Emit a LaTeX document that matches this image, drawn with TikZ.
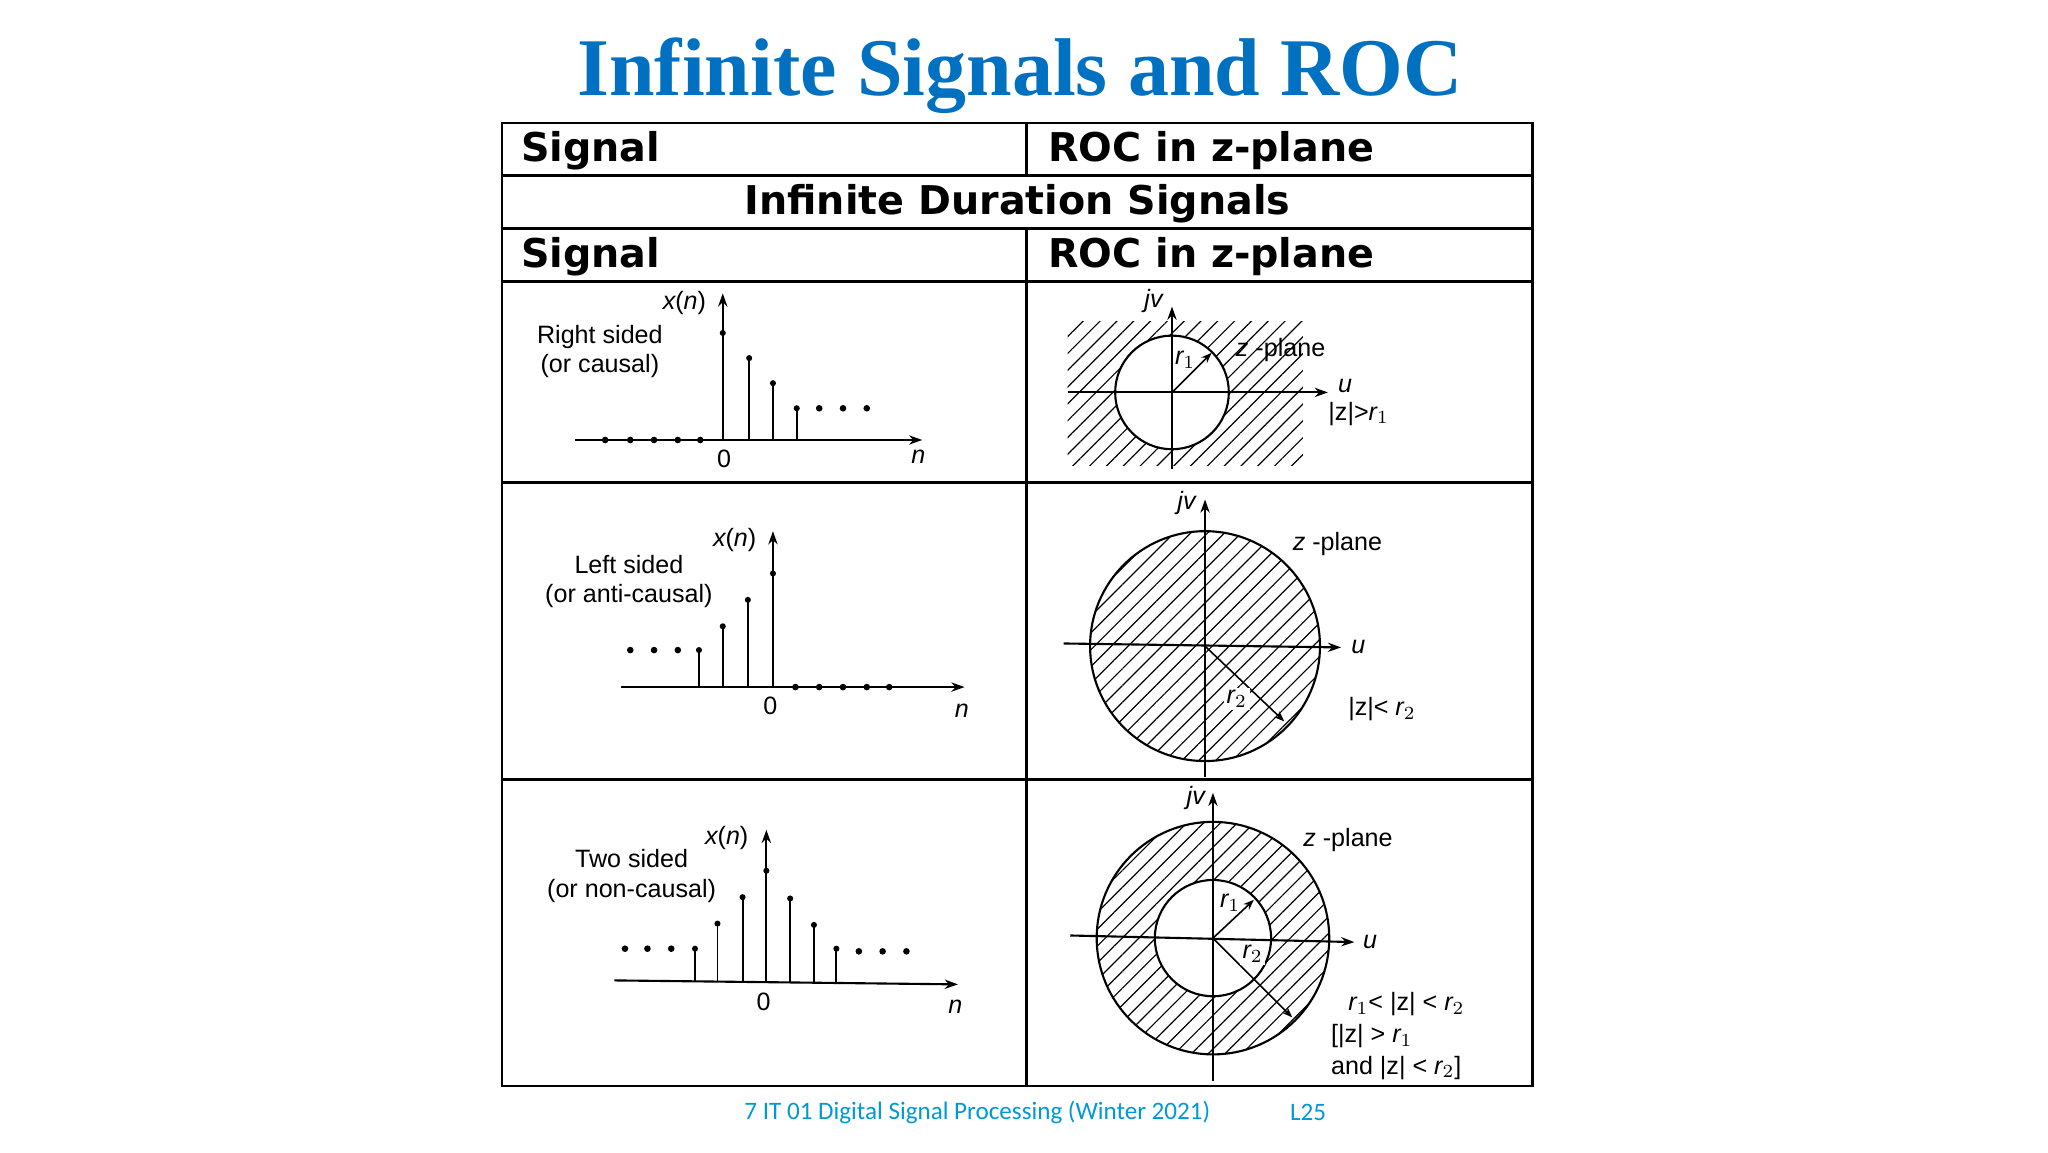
\documentclass[tikz,border=0pt]{standalone}
\usepackage{fontspec}
\setmainfont{Liberation Sans}
\newfontfamily\titlefont{Liberation Serif}
\newfontfamily\headfont{DejaVu Sans}
\newfontfamily\footfont{Carlito}
\usetikzlibrary{patterns.meta,arrows.meta}
\definecolor{titleblue}{RGB}{0,112,192}
\definecolor{footblue}{RGB}{0,153,214}
\begin{document}
\begin{tikzpicture}[x=0.5pt,y=-0.5pt,
  grid/.style={line width=1pt},
  ax/.style={line width=0.8pt,-{Stealth[length=5pt,width=3.5pt]}},
  stem/.style={line width=0.7pt},
  rarrow/.style={line width=0.6pt,-{Stealth[length=4pt,width=3pt]}},
  hatch/.style={pattern={Lines[angle=45,distance=4.5pt,line width=0.45pt]}},
  lbl/.style={font=\fontsize{9.5}{11}\selectfont,inner sep=0pt},
  hd/.style={font=\headfont\bfseries\fontsize{15}{17}\selectfont,inner sep=0pt}]
\useasboundingbox (0,0) rectangle (1550,871.9);
% title
\node[font=\titlefont\bfseries\fontsize{31}{34}\selectfont,text=titleblue] (title) at (772,57) {Infinite Signals and ROC};
% table
\draw[grid] (380,93) rectangle (1160,822);
\foreach \y in {133,173,213,365,590} \draw[grid] (380,\y) -- (1160,\y);
\draw[grid] (777,93) -- (777,133);
\draw[grid] (777,173) -- (777,822);
\node[hd,anchor=west] (h1) at (394,114) {Signal};
\node[hd,anchor=west] (h2) at (793,114) {ROC in z-plane};
\node[hd] (h3) at (770,154) {Infinite Duration Signals};
\node[hd,anchor=west] (h4) at (394,194) {Signal};
\node[hd,anchor=west] (h5) at (793,194) {ROC in z-plane};
% ---------- row 1 left
\coordinate (a1s) at (435,333); \coordinate (a1e) at (698,333);
\draw[ax] (a1s) -- (a1e);
\coordinate (v1s) at (547,333); \coordinate (v1e) at (547,222);
\draw[ax] (v1s) -- (v1e);
\foreach \x/\t in {547/252,567/271,585/290,603/309}{\draw[stem] (\x,333) -- (\x,\t); \fill (\x,\t) circle (2.3);}
\foreach \x in {620,638,656} \fill (\x,309) circle (2.5);
\foreach \x in {458,477,495,513,530} \fill (\x,333) circle (2.5);
\node[lbl] (z1) at (548,347) {0};
\node[lbl] (n1) at (695,346) {\itshape n};
\node[lbl] (x1) at (518,229) {\itshape x\upshape(\itshape n\upshape)};
\node[lbl,align=center] (t1) at (454,266) {Right sided\\(or causal)};
% ---------- row 1 right
\begin{scope}
\clip (808,243) rectangle (986,352);
\fill[hatch] (808,243) rectangle (986,352);
\end{scope}
\fill[white] (887,297) circle (43);
\draw[line width=0.8pt] (887,297) circle (43);
\draw[ax] (808,297) -- (1005,297);
\draw[ax] (887,355) -- (887,232);
\coordinate (c1) at (887,297); \coordinate (r1e) at (917,267);
\draw[rarrow] (c1) -- (r1e);
\node[lbl] (jv1) at (873,228) {\itshape jv};
\node[lbl] (u1) at (1018,292) {\itshape u};
\node[lbl,anchor=west] (roc1) at (1005,313) {|z|>\itshape r\upshape$_1$};
\node[lbl,anchor=west] (zp1) at (935,265) {\itshape z\upshape\ -plane};
\node[lbl] (r1l) at (897,272) {\itshape r\upshape$_1$};
% ---------- row 2 left
\draw[ax] (470,520) -- (730,520);
\draw[ax] (585,520) -- (585,402);
\foreach \x/\t in {585/434,566/454,547/474,529/492}{\draw[stem] (\x,520) -- (\x,\t); \fill (\x,\t) circle (2.3);}
\foreach \x in {477,495,513} \fill (\x,492) circle (2.5);
\foreach \x in {602,620,638,656,673} \fill (\x,520) circle (2.5);
\node[lbl] (z2) at (583,534) {0};
\node[lbl] (n2) at (728,538) {\itshape n};
\node[lbl] (x2) at (556,409) {\itshape x\upshape(\itshape n\upshape)};
\node[lbl,align=center] (t2) at (476,440) {Left sided\\(or anti-causal)};
% ---------- row 2 right
\fill[hatch] (912,489) circle (87);
\draw[line width=0.8pt] (912,489) circle (87);
\draw[ax] (805,487) -- (1015,490);
\draw[ax] (912,588) -- (912,378);
\coordinate (c2) at (912,489); \coordinate (r2e) at (972,546);
\draw[rarrow] (c2) -- (r2e);
\node[lbl] (jv2) at (898,381) {\itshape jv};
\node[lbl,anchor=west] (zp2) at (978,412) {\itshape z\upshape\ -plane};
\node[lbl] (u2) at (1028,490) {\itshape u};
\node[lbl,anchor=west] (roc2) at (1020,537) {|z|< \itshape r\upshape$_2$};
\node[lbl,fill=white,inner sep=1pt] (r2l) at (936,529) {\itshape r\upshape$_2$};
% ---------- row 3 left
\draw[ax] (465,742) -- (725,745);
\draw[ax] (580,742) -- (580,628);
\foreach \x/\t in {580/659,562/679,543/699,526/718,598/680,616/700,633/718}{\draw[stem] (\x,743) -- (\x,\t); \fill (\x,\t) circle (2.3);}
\foreach \x in {473,490,508} \fill (\x,718) circle (2.5);
\foreach \x in {650,668,686} \fill (\x,720) circle (2.5);
\node[lbl] (z3) at (578,758) {0};
\node[lbl] (n3) at (723,762) {\itshape n};
\node[lbl] (x3) at (550,634) {\itshape x\upshape(\itshape n\upshape)};
\node[lbl,align=center] (t3) at (478,663) {Two sided\\(or non-causal)};
% ---------- row 3 right
\fill[hatch,even odd rule] (918,710) circle (88) (918,710) circle (44);
\draw[line width=0.8pt] (918,710) circle (88);
\draw[line width=0.8pt] (918,710) circle (44);
\draw[ax] (810,708) -- (1025,713);
\draw[ax] (918,818) -- (918,600);
\coordinate (c3) at (918,710); \coordinate (r3a) at (949,681); \coordinate (r3b) at (978,770);
\draw[rarrow] (c3) -- (r3a);
\draw[rarrow] (c3) -- (r3b);
\node[lbl] (jv3) at (905,604) {\itshape jv};
\node[lbl,anchor=west] (zp3) at (986,636) {\itshape z\upshape\ -plane};
\node[lbl] (u3) at (1037,713) {\itshape u};
\node[lbl] (r1l3) at (931,683) {\itshape r\upshape$_1$};
\node[lbl,fill=white,inner sep=1pt] (r2l3) at (948,722) {\itshape r\upshape$_2$};
\node[lbl,anchor=west] (e1) at (1020,760) {\itshape r\upshape$_1$< |z| < \itshape r\upshape$_2$};
\node[lbl,anchor=west] (e2) at (1007,784) {[|z| > \itshape r\upshape$_1$};
\node[lbl,anchor=west] (e3) at (1007,808) {and |z| < \itshape r\upshape$_2$]};
% footer
\node[font=\footfont\fontsize{9.5}{11}\selectfont,text=footblue,anchor=west,inner sep=0pt] (f1) at (563,842) {7 IT 01 Digital Signal Processing (Winter 2021)};
\node[font=\footfont\fontsize{9.5}{11}\selectfont,text=footblue,anchor=west,inner sep=0pt] (f2) at (976,842) {L25};
\end{tikzpicture}
\end{document}
